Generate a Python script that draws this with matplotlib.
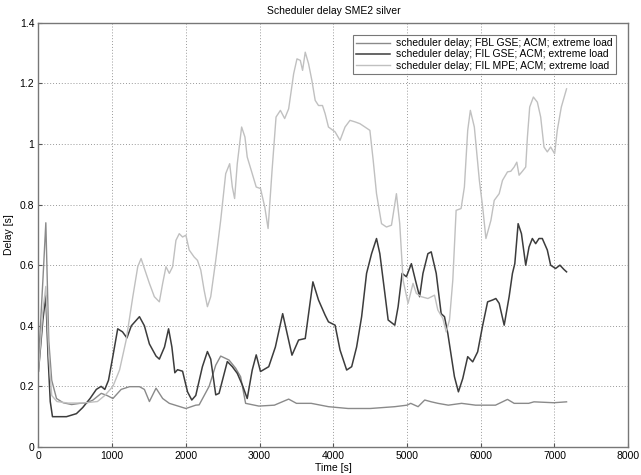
import matplotlib
matplotlib.use("Agg")
import matplotlib.pyplot as plt

plt.rcParams['font.family'] = ['Liberation Sans', 'DejaVu Sans']

title = "Scheduler delay SME2 silver"
xlabel = "Time [s]"
ylabel = "Delay [s]"
labels = ["scheduler delay; FBL GSE; ACM; extreme load",
          "scheduler delay; FIL GSE; ACM; extreme load",
          "scheduler delay; FIL MPE; ACM; extreme load"]

# FBL GSE (medium gray)
fbl_t = [0, 60, 100, 140, 180, 245, 335, 450, 560, 650, 740, 852, 930, 1010, 1122,
         1235, 1370, 1437, 1505, 1595, 1685, 1775, 2000, 2134, 2180, 2315, 2405,
         2472, 2585, 2675, 2742, 2810, 2990, 3200, 3394, 3500, 3700, 3934, 4200,
         4500, 4834, 5000, 5050, 5150, 5240, 5330, 5420, 5560, 5740, 5930, 6000,
         6200, 6363, 6453, 6650, 6722, 6990, 7164]
fbl_v = [0.28, 0.55, 0.74, 0.35, 0.22, 0.16, 0.146, 0.14, 0.144, 0.145, 0.155, 0.177,
         0.17, 0.16, 0.19, 0.199, 0.199, 0.19, 0.15, 0.194, 0.16, 0.144, 0.127, 0.138,
         0.139, 0.2, 0.27, 0.3, 0.287, 0.26, 0.232, 0.144, 0.135, 0.138, 0.158, 0.144,
         0.144, 0.133, 0.127, 0.127, 0.133, 0.138, 0.144, 0.133, 0.155, 0.149, 0.144,
         0.138, 0.144, 0.138, 0.138, 0.138, 0.157, 0.144, 0.144, 0.149, 0.146, 0.149]

# FIL GSE (dark)
gse_t = [0, 60, 100, 130, 160, 190, 250, 380, 515, 600, 700, 785, 850, 900, 950,
         1010, 1075, 1140, 1200, 1260, 1370, 1437, 1505, 1595, 1640, 1710, 1765,
         1810, 1850, 1887, 1955, 2022, 2080, 2134, 2224, 2292, 2337, 2405, 2450,
         2562, 2630, 2697, 2765, 2832, 2900, 2954, 3012, 3124, 3214, 3313, 3439,
         3529, 3619, 3723, 3799, 3889, 3934, 4024, 4091, 4181, 4249, 4316, 4384,
         4451, 4519, 4586, 4631, 4699, 4744, 4834, 4879, 4933, 4991, 5059, 5113,
         5171, 5216, 5283, 5328, 5396, 5463, 5508, 5553, 5643, 5697, 5756, 5823,
         5891, 5958, 6025, 6093, 6160, 6205, 6250, 6318, 6385, 6430, 6462, 6507,
         6552, 6610, 6655, 6700, 6745, 6790, 6835, 6903, 6948, 7015, 7074, 7128, 7164]
gse_v = [0.25, 0.42, 0.5, 0.3, 0.15, 0.10, 0.10, 0.10, 0.11, 0.13, 0.16, 0.19, 0.2,
         0.19, 0.22, 0.3, 0.39, 0.38, 0.36, 0.4, 0.43, 0.4, 0.34, 0.30, 0.29, 0.33,
         0.39, 0.33, 0.245, 0.255, 0.25, 0.182, 0.155, 0.17, 0.265, 0.315, 0.29,
         0.172, 0.177, 0.282, 0.265, 0.243, 0.205, 0.16, 0.254, 0.304, 0.249, 0.265,
         0.33, 0.44, 0.303, 0.353, 0.358, 0.545, 0.485, 0.435, 0.413, 0.402, 0.32,
         0.254, 0.265, 0.33, 0.43, 0.573, 0.638, 0.688, 0.638, 0.507, 0.419, 0.402,
         0.463, 0.573, 0.562, 0.605, 0.551, 0.496, 0.573, 0.638, 0.644, 0.573, 0.44,
         0.43, 0.375, 0.232, 0.182, 0.226, 0.298, 0.281, 0.314, 0.40, 0.479, 0.485,
         0.49, 0.474, 0.402, 0.496, 0.573, 0.605, 0.737, 0.704, 0.6, 0.66, 0.688,
         0.671, 0.688, 0.688, 0.65, 0.6, 0.589, 0.6, 0.586, 0.578]

# FIL MPE (light gray)
mpe_t = [0, 60, 100, 140, 180, 250, 400, 600, 800, 900, 1010, 1100, 1190, 1280,
         1347, 1392, 1437, 1505, 1572, 1640, 1685, 1730, 1775, 1820, 1865, 1910,
         1955, 2000, 2045, 2112, 2157, 2202, 2247, 2292, 2337, 2405, 2472, 2540,
         2594, 2630, 2661, 2697, 2756, 2801, 2832, 2900, 2954, 3012, 3070, 3115,
         3169, 3223, 3282, 3340, 3394, 3462, 3507, 3552, 3583, 3619, 3664, 3709,
         3754, 3799, 3853, 3889, 3934, 4024, 4091, 4159, 4226, 4294, 4361, 4429,
         4496, 4541, 4586, 4654, 4721, 4789, 4856, 4901, 4946, 5014, 5081, 5126,
         5193, 5283, 5373, 5418, 5486, 5531, 5576, 5621, 5666, 5733, 5778, 5823,
         5859, 5913, 5981, 6026, 6070, 6138, 6183, 6250, 6295, 6363, 6408, 6453,
         6489, 6520, 6565, 6610, 6633, 6664, 6714, 6768, 6813, 6858, 6903, 6948,
         7002, 7038, 7093, 7164]
mpe_v = [0.25, 0.45, 0.53, 0.3, 0.17, 0.15, 0.145, 0.145, 0.15, 0.17, 0.2, 0.254,
         0.353, 0.496, 0.595, 0.622, 0.589, 0.54, 0.496, 0.479, 0.54, 0.595, 0.573,
         0.595, 0.682, 0.704, 0.693, 0.699, 0.65, 0.627, 0.616, 0.584, 0.518, 0.463,
         0.496, 0.616, 0.748, 0.902, 0.935, 0.858, 0.82, 0.935, 1.056, 1.023, 0.957,
         0.902, 0.858, 0.853, 0.792, 0.721, 0.913, 1.089, 1.111, 1.084, 1.116, 1.232,
         1.281, 1.276, 1.243, 1.303, 1.265, 1.21, 1.144, 1.127, 1.127, 1.1, 1.056,
         1.04, 1.012, 1.056, 1.078, 1.073, 1.067, 1.056, 1.045, 0.946, 0.836, 0.737,
         0.726, 0.732, 0.836, 0.737, 0.551, 0.474, 0.54, 0.507, 0.496, 0.49, 0.501,
         0.452, 0.424, 0.38, 0.419, 0.551, 0.781, 0.787, 0.858, 1.045, 1.111, 1.056,
         0.88, 0.792, 0.688, 0.748, 0.814, 0.836, 0.88, 0.908, 0.91, 0.924, 0.94,
         0.897, 0.91, 0.924, 1.023, 1.122, 1.155, 1.138, 1.089, 0.99, 0.974, 0.99,
         0.968, 1.045, 1.122, 1.182]

fig = plt.figure(figsize=(6.41, 4.75), dpi=100)
ax = fig.add_axes([0.060, 0.059, 0.920, 0.893])

ax.plot(fbl_t, fbl_v, color='#8a8a8a', lw=1.0, label=labels[0])
ax.plot(gse_t, gse_v, color='#3c3c3c', lw=1.1, label=labels[1])
ax.plot(mpe_t, mpe_v, color='#c0c0c0', lw=1.0, label=labels[2])

ax.set_xlim(0, 8000)
ax.set_ylim(0, 1.4)
ax.set_xticks(range(0, 8001, 1000))
ax.set_yticks([0, 0.2, 0.4, 0.6, 0.8, 1.0, 1.2, 1.4])
ax.set_yticklabels(['0', '0.2', '0.4', '0.6', '0.8', '1', '1.2', '1.4'])
ax.grid(True, linestyle=(0, (1, 2)), color='#9a9a9a', lw=0.7)
ax.tick_params(direction='in', labelsize=7.5, length=3, color='#555555', pad=3)
for s in ax.spines.values():
    s.set_color('#777777')
    s.set_linewidth(1.0)

ax.set_title(title, fontsize=7.5, pad=6)
ax.set_xlabel(xlabel, fontsize=7.5, labelpad=1)
ax.set_ylabel(ylabel, fontsize=7.5, labelpad=4)

leg = ax.legend(loc='upper right', fontsize=7.5, frameon=True, fancybox=False,
                borderpad=0.3, labelspacing=0.1, handlelength=3.2,
                handletextpad=0.6, borderaxespad=1.2)
leg.get_frame().set_edgecolor('#555555')
leg.get_frame().set_linewidth(0.8)

fig.savefig("out.png", dpi=100)
